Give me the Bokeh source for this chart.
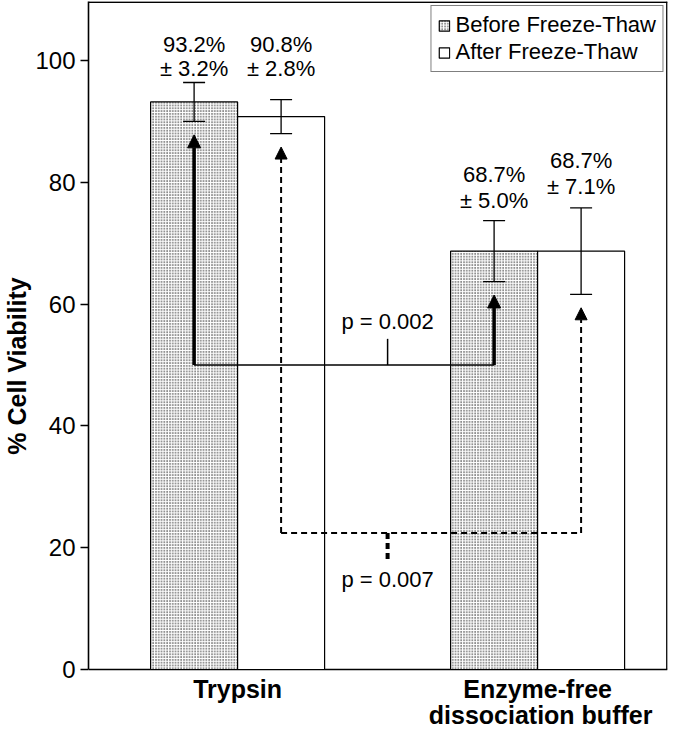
from bokeh.plotting import figure
from bokeh.models import (ColumnDataSource, Whisker, Arrow, NormalHead, TeeHead,
                          Legend, LegendItem, FixedTicker, Range1d)
from bokeh.core.properties import value
from bokeh.embed import file_html
from bokeh.resources import INLINE

# ---------------- data ----------------
groups = ["Trypsin", "Enzyme-free\ndissociation buffer"]
series = ["Before Freeze-Thaw", "After Freeze-Thaw"]
before_mean = [93.2, 68.7]
before_sd = [3.2, 5.0]
after_mean = [90.8, 68.7]
after_sd = [2.8, 7.1]
p_labels = ["p = 0.002", "p = 0.007"]
y_ticks = [0, 20, 40, 60, 80, 100]

# ---------------- layout constants ----------------
FONT = value("Liberation Sans")
group_x = [0, 1]
off = 0.145
bar_w = 0.29
bx = [g - off for g in group_x]   # before bar centres
ax = [g + off for g in group_x]   # after bar centres
bracket_solid_y = 50.0
bracket_dash_y = 22.4
gap = 2.2
W, H = 669, 730
LEFT = 88
X0 = -0.497
X1 = X0 + (W - LEFT - 2) / 300.0
Y_TOP = 109.7
Y0 = -10.02        # area below 0 holds the category labels

p = figure(width=W, height=H, output_backend="svg", toolbar_location=None,
           x_range=Range1d(X0, X1), y_range=Range1d(Y0, Y_TOP),
           min_border_left=LEFT, min_border_right=2, min_border_top=1, min_border_bottom=0)
p.background_fill_color = "white"
p.border_fill_color = "white"
p.outline_line_color = None
p.xgrid.visible = False
p.ygrid.visible = False

# frame box (top, right, bottom)
p.segment(x0=[X0, X1 - 0.002, X0], y0=[Y_TOP - 0.1, 0, 0],
          x1=[X1, X1 - 0.002, X1], y1=[Y_TOP - 0.1, Y_TOP, 0],
          line_color="black", line_width=1.6)

# bars
src_b = ColumnDataSource(dict(x=bx, top=before_mean, up=[m + s for m, s in zip(before_mean, before_sd)],
                              lo=[m - s for m, s in zip(before_mean, before_sd)]))
src_a = ColumnDataSource(dict(x=ax, top=after_mean, up=[m + s for m, s in zip(after_mean, after_sd)],
                              lo=[m - s for m, s in zip(after_mean, after_sd)]))
rb = p.vbar(x="x", top="top", bottom=0, width=bar_w, source=src_b, fill_color="white",
            line_color="black", line_width=1.2, hatch_pattern="dot", hatch_color="black",
            hatch_scale=2.8, hatch_weight=1.3)
ra = p.vbar(x="x", top="top", bottom=0, width=bar_w, source=src_a, fill_color="white",
            line_color="black", line_width=1.2)

# error bars
for src in (src_b, src_a):
    w = Whisker(base="x", upper="up", lower="lo", source=src, dimension="height",
                line_color="black", line_width=1.3, level="overlay",
                upper_head=TeeHead(size=22, line_width=1.3, line_color="black"),
                lower_head=TeeHead(size=22, line_width=1.3, line_color="black"))
    p.add_layout(w)

# value labels (two lines each)
line1_y = [102.6, 81.3]
line2_y = [98.7, 77.1]
line1_y_a = [102.6, 83.6]
line2_y_a = [98.7, 79.3]
TS = "22px"
p.text(x=bx, y=line1_y, text=["%.1f%%" % v for v in before_mean], text_align="center",
       text_baseline="middle", text_font=FONT, text_font_size=TS, text_color="black")
p.text(x=bx, y=line2_y, text=["\u00b1 %.1f%%" % v for v in before_sd], text_align="center",
       text_baseline="middle", text_font=FONT, text_font_size=TS, text_color="black")
p.text(x=ax, y=line1_y_a, text=["%.1f%%" % v for v in after_mean], text_align="center",
       text_baseline="middle", text_font=FONT, text_font_size=TS, text_color="black")
p.text(x=ax, y=line2_y_a, text=["\u00b1 %.1f%%" % v for v in after_sd], text_align="center",
       text_baseline="middle", text_font=FONT, text_font_size=TS, text_color="black")

# solid bracket (before vs before)
p.segment(x0=[bx[0]], y0=[bracket_solid_y], x1=[bx[1]], y1=[bracket_solid_y],
          line_color="black", line_width=1.5)
p.segment(x0=[0.5], y0=[bracket_solid_y], x1=[0.5], y1=[bracket_solid_y + 4.3],
          line_color="black", line_width=1.5)
for i in range(2):
    p.add_layout(Arrow(x_start=bx[i], y_start=bracket_solid_y, x_end=bx[i],
                       y_end=before_mean[i] - before_sd[i] - gap,
                       line_color="black", line_width=3.5,
                       end=NormalHead(size=13, fill_color="black", line_color="black", line_width=1)))
p.text(x=[0.5], y=[57.2], text=[p_labels[0]], text_align="center", text_baseline="middle",
       text_font=FONT, text_font_size="22px", text_color="black")

# dashed bracket (after vs after)
p.segment(x0=[ax[0]], y0=[bracket_dash_y], x1=[ax[1]], y1=[bracket_dash_y],
          line_color="black", line_width=2, line_dash="6 4")
p.segment(x0=[0.5], y0=[bracket_dash_y], x1=[0.5], y1=[bracket_dash_y - 4.4],
          line_color="black", line_width=4, line_dash="6 4")
for i in range(2):
    p.add_layout(Arrow(x_start=ax[i], y_start=bracket_dash_y, x_end=ax[i],
                       y_end=after_mean[i] - after_sd[i] - gap,
                       line_color="black", line_width=2, line_dash="6 4",
                       end=NormalHead(size=12, fill_color="black", line_color="black", line_width=1)))
p.text(x=[0.5], y=[14.8], text=[p_labels[1]], text_align="center", text_baseline="middle",
       text_font=FONT, text_font_size="22px", text_color="black")

# category labels (below the zero line)
label_lines = [[groups[0]], groups[1].split("\n")]
line_mid = [-3.28, -7.55]
lx, ly, lt = [], [], []
for g, lines in zip(group_x, label_lines):
    for k, txt in enumerate(lines):
        lx.append(g + 0.01 * k)
        ly.append(line_mid[k])
        lt.append(txt)
p.text(x=lx, y=ly, text=lt, text_align="center", text_baseline="middle",
       text_font=FONT, text_font_style="bold", text_font_size="25px", text_color="black")

# axes
p.yaxis.ticker = FixedTicker(ticks=y_ticks)
p.yaxis.bounds = (0, Y_TOP)
p.yaxis.axis_label = "% Cell Viability"
p.yaxis.axis_label_text_font = "Liberation Sans"
p.yaxis.axis_label_text_font_style = "bold"
p.yaxis.axis_label_text_font_size = "25px"
p.yaxis.axis_label_text_color = "black"
p.yaxis.axis_label_standoff = 1
p.yaxis.major_label_text_font = "Liberation Sans"
p.yaxis.major_label_text_font_size = "24px"
p.yaxis.major_label_text_color = "black"
p.yaxis.major_label_standoff = 5
p.yaxis.major_tick_out = 8
p.yaxis.major_tick_in = 0
p.yaxis.minor_tick_line_color = None
p.yaxis.axis_line_width = 1.6
p.yaxis.major_tick_line_width = 1.5

p.xaxis.visible = False

# legend
legend = Legend(items=[LegendItem(label=series[0], renderers=[rb]),
                       LegendItem(label=series[1], renderers=[ra])],
                location="top_right", margin=4, padding=6, spacing=1,
                glyph_width=13, glyph_height=13, label_standoff=5,
                label_text_font="Liberation Sans", label_text_font_size="22px",
                label_text_color="black", label_height=24,
                border_line_color="black", border_line_width=1.2,
                background_fill_color="white", background_fill_alpha=1.0)
p.add_layout(legend)

open("out.html", "w").write(file_html(p, INLINE))
